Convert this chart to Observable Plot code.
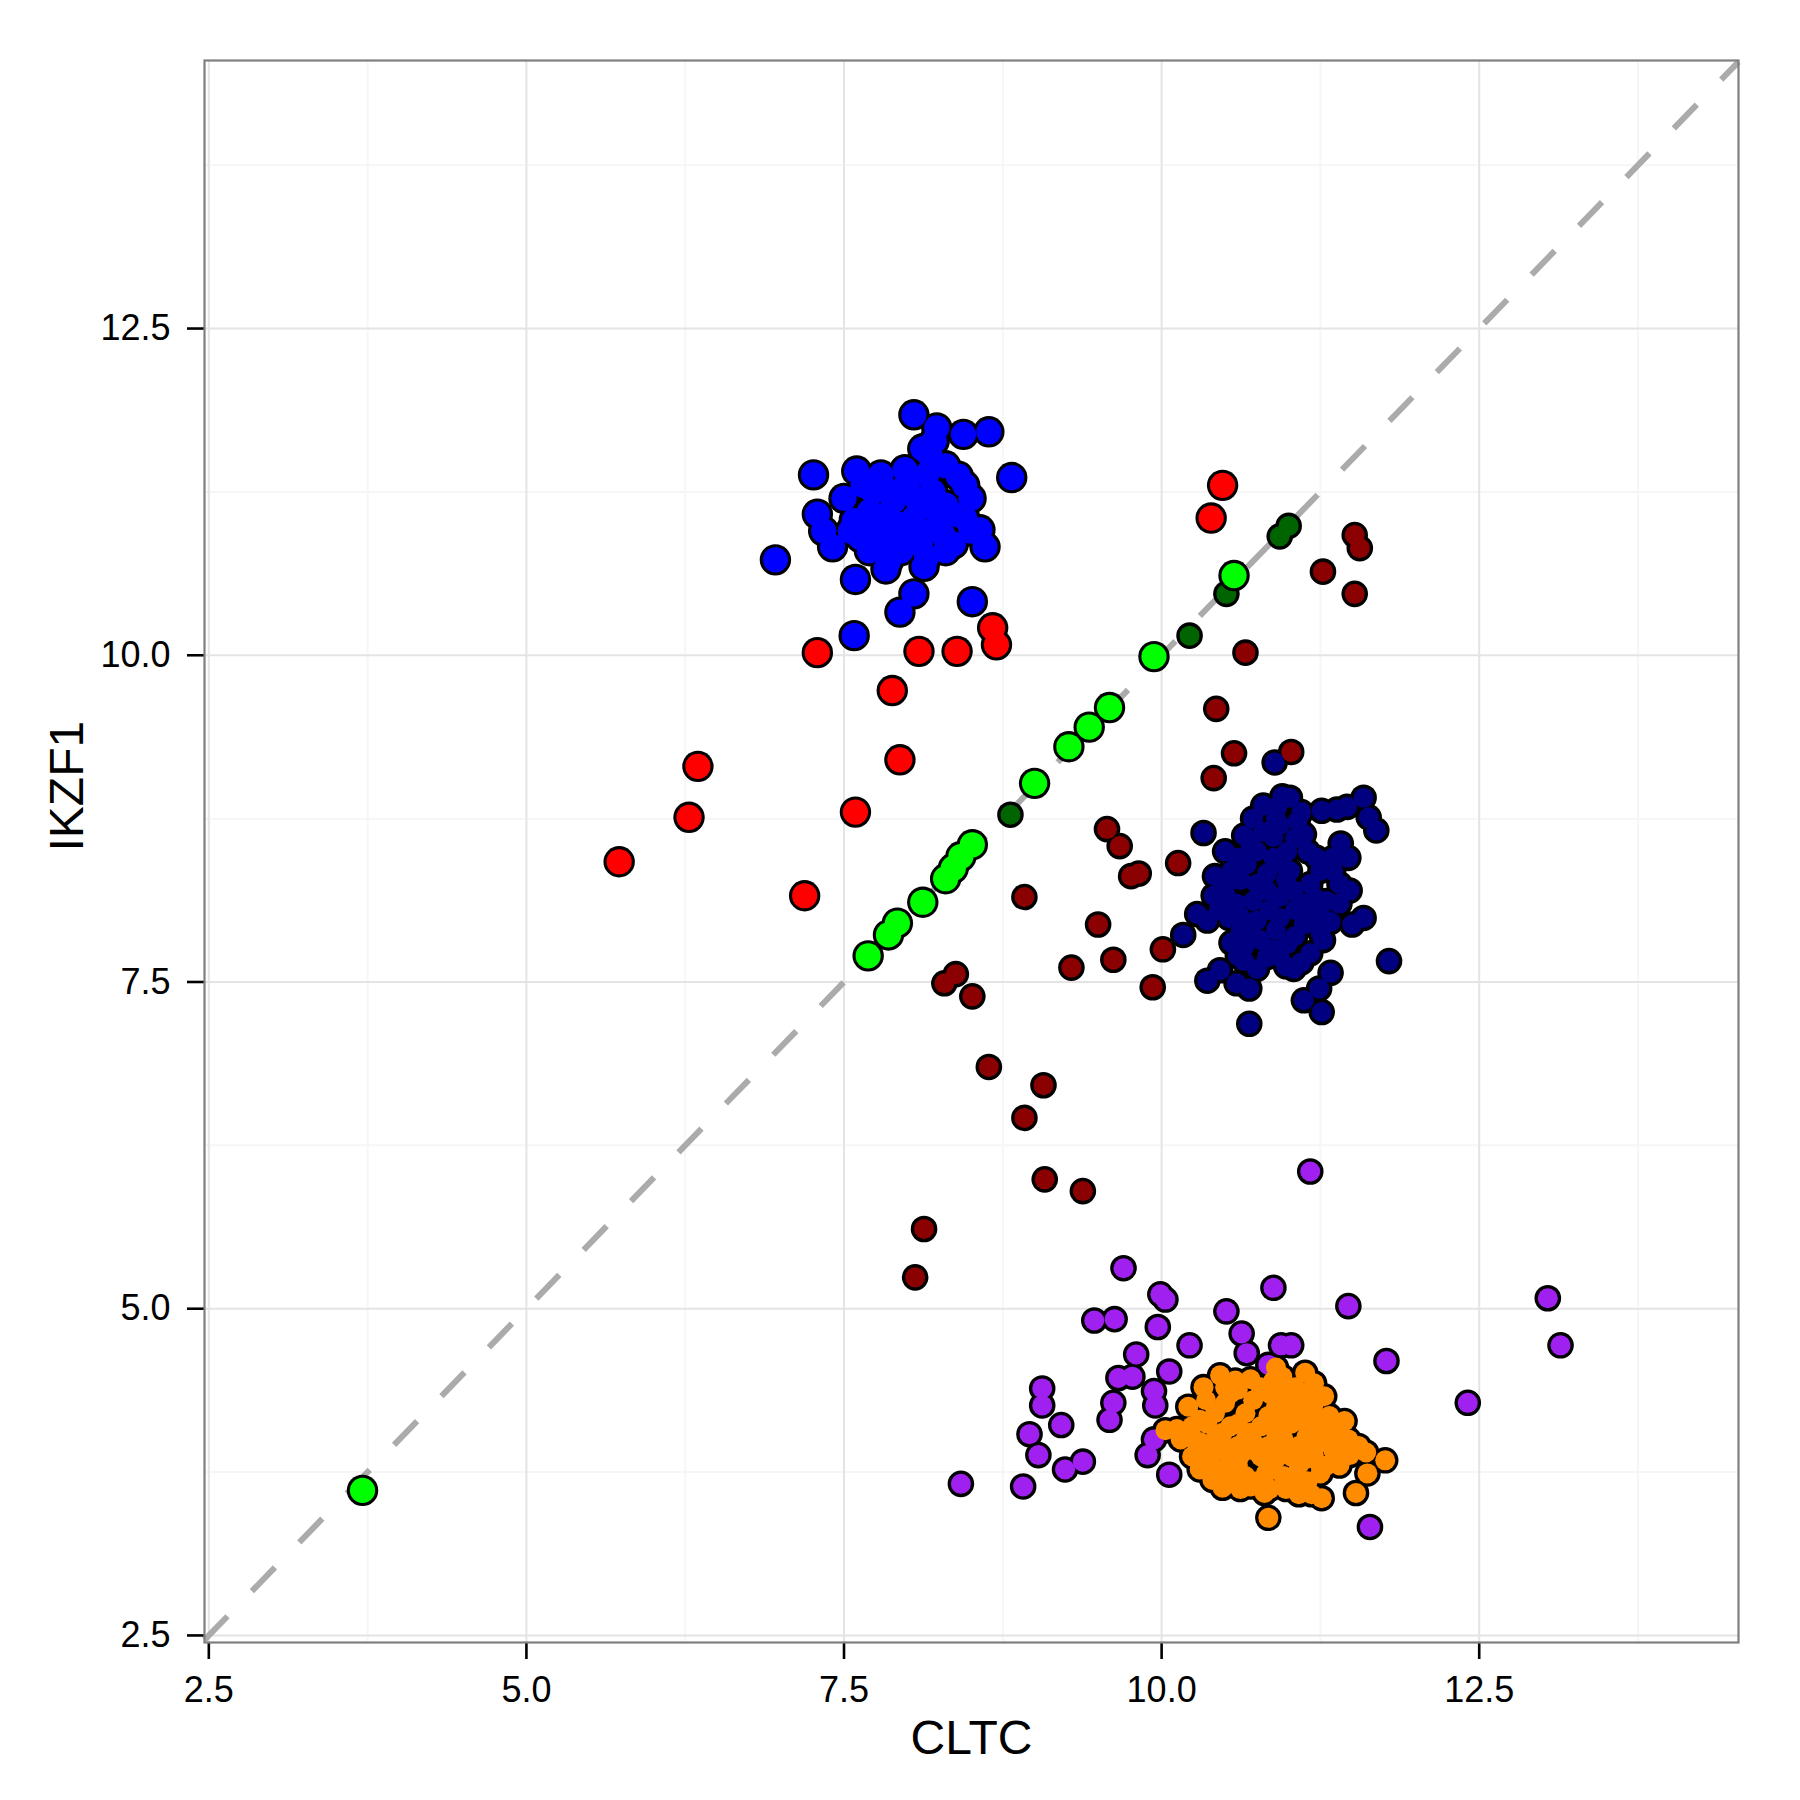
<!DOCTYPE html>
<html>
<head>
<meta charset="utf-8">
<script src="https://cdn.jsdelivr.net/npm/d3@7"></script>
<script src="https://cdn.jsdelivr.net/npm/@observablehq/plot@0.6"></script>
<style>
  html, body { margin: 0; padding: 0; background: #ffffff; }
  #chart { width: 1800px; height: 1800px; }
</style>
</head>
<body>
<div id="chart"></div>
<script>
// ---- axis settings ----
const xDomain = [2.466, 14.541];
const yDomain = [2.446, 14.551];
const majorTicks = [2.5, 5.0, 7.5, 10.0, 12.5];
const minorTicks = [3.75, 6.25, 8.75, 11.25, 13.75];
const xTitle = "CLTC";
const yTitle = "IKZF1";

// ---- data: [CLTC, IKZF1] pairs per group ----
// larger points
const redPts = [[7.29,10.02],[8.09,10.03],[8.39,10.03],[8.67,10.21],[8.70,10.08],[7.88,9.73],[10.48,11.30],[10.39,11.05],[7.94,9.20],[6.35,9.15],[6.28,8.76],[7.59,8.80],[5.73,8.42],[7.19,8.16]];
const bluePts = [[8.05,11.84],[8.23,11.74],[8.44,11.69],[8.64,11.71],[8.21,11.64],[8.18,11.52],[7.26,11.38],[8.82,11.36],[7.60,11.41],[7.79,11.38],[7.98,11.42],[8.40,11.37],[8.50,11.20],[7.50,11.20],[7.29,11.08],[7.34,10.95],[7.41,10.83],[6.96,10.73],[7.59,10.58],[7.83,10.66],[8.13,10.68],[8.05,10.47],[7.94,10.33],[8.51,10.41],[7.58,10.15],[8.57,10.96],[8.61,10.83],[8.36,10.85],[7.84,11.08],[8.07,11.20],[7.73,11.25],[7.63,10.90],[7.79,10.82],[8.10,10.85],[8.26,10.97],[7.94,11.00],[8.21,11.13],[8.36,11.08],[7.73,10.97],[8.00,11.33],[8.15,11.38],[7.58,11.03],[7.89,11.18],[8.28,10.92],[8.00,10.88],[7.70,11.10],[7.90,11.25],[8.05,11.05],[8.20,11.25],[8.30,11.15],[7.95,10.80],[8.15,10.75],[8.30,10.80],[7.70,10.80],[7.85,10.95],[8.45,11.05],[8.50,10.95],[7.65,11.30],[8.30,11.45],[7.85,10.72],[8.10,10.95],[8.25,11.05],[7.55,10.95],[8.45,11.30],[8.12,11.58]];
const greenPts = [[10.57,10.61],[9.94,9.99],[9.59,9.60],[9.43,9.45],[9.27,9.30],[9.00,9.02],[8.51,8.55],[8.42,8.46],[8.36,8.37],[8.30,8.29],[8.12,8.11],[7.92,7.95],[7.85,7.86],[7.69,7.70],[3.71,3.61]];
// smaller points
const darkGreenPts = [[10.22,10.15],[8.81,8.78],[10.51,10.47],[10.93,10.91],[11.00,10.99]];
const darkRedPts = [[11.27,10.64],[11.52,10.92],[11.56,10.82],[11.52,10.47],[10.66,10.02],[10.43,9.59],[10.57,9.25],[10.41,9.06],[11.02,9.26],[9.57,8.67],[9.67,8.54],[9.76,8.31],[9.82,8.33],[10.13,8.41],[8.92,8.15],[9.50,7.94],[10.01,7.75],[9.62,7.67],[9.29,7.61],[9.93,7.46],[8.38,7.56],[8.29,7.49],[8.51,7.39],[8.64,6.85],[9.07,6.71],[8.92,6.46],[9.08,5.99],[9.38,5.90],[8.13,5.61],[8.06,5.24]];
const navyPts = [[10.89,9.18],[10.33,8.64],[11.01,8.91],[10.91,8.84],[11.26,8.81],[11.38,8.82],[11.46,8.84],[11.59,8.91],[11.63,8.76],[11.69,8.66],[10.65,8.62],[10.93,8.70],[11.07,8.73],[11.41,8.56],[11.47,8.45],[10.42,8.31],[10.41,8.16],[11.48,8.20],[11.35,8.35],[10.28,8.02],[10.36,7.97],[10.17,7.86],[11.59,7.99],[11.50,7.94],[11.30,7.97],[11.79,7.66],[10.36,7.51],[10.46,7.59],[10.59,7.49],[10.69,7.45],[10.69,7.18],[11.33,7.57],[11.24,7.45],[11.12,7.36],[11.26,7.27],[11.04,7.60],[10.65,7.66],[10.83,7.69],[11.17,7.72],[11.27,7.82],[11.33,7.96],[10.53,7.99],[10.62,7.89],[10.65,7.77],[10.75,8.50],[10.88,8.61],[10.99,8.50],[11.12,8.63],[11.22,8.45],[10.62,8.28],[10.83,8.33],[11.01,8.35],[11.17,8.25],[11.30,8.12],[10.51,8.15],[10.72,8.12],[10.93,8.15],[11.09,8.10],[10.75,7.97],[10.93,7.99],[11.12,7.94],[10.78,7.82],[10.99,7.79],[10.83,8.20],[10.67,8.40],[11.04,8.20],[10.88,8.45],[10.51,8.25],[10.93,7.69],[10.59,8.10],[11.22,8.07],[10.80,8.85],[10.90,8.75],[10.95,8.92],[10.80,8.65],[11.05,8.60],[10.70,8.55],[11.15,8.50],[10.60,8.45],[10.95,8.40],[11.25,8.35],[10.55,8.35],[10.75,8.25],[10.98,8.28],[11.20,8.15],[11.40,8.10],[10.45,8.05],[10.62,8.00],[10.85,8.05],[11.05,8.05],[11.20,8.00],[10.70,7.90],[10.90,7.90],[11.05,7.85],[11.25,7.88],[10.55,7.80],[10.88,7.75],[11.10,7.65],[10.75,7.60],[10.60,7.70],[10.98,7.62],[11.40,8.25],[11.35,8.45],[10.50,8.50],[10.72,8.75],[11.10,8.80]];
const purplePts = [[9.70,5.31],[9.99,5.11],[10.03,5.07],[9.47,4.91],[9.63,4.92],[9.97,4.86],[10.88,5.16],[10.51,4.98],[11.47,5.02],[13.04,5.08],[13.14,4.72],[12.41,4.28],[10.63,4.81],[10.67,4.66],[10.94,4.72],[11.02,4.72],[11.77,4.60],[10.22,4.72],[9.80,4.65],[10.06,4.52],[9.66,4.47],[9.77,4.48],[9.94,4.37],[9.95,4.26],[9.62,4.28],[9.59,4.15],[9.06,4.39],[9.06,4.26],[9.21,4.11],[8.96,4.04],[9.03,3.88],[9.24,3.77],[9.38,3.83],[8.91,3.64],[9.94,4.00],[9.89,3.88],[10.06,3.73],[10.84,4.57],[11.64,3.33],[11.17,6.05],[8.42,3.66]];
const orangePts = [[10.46,4.49],[10.60,4.38],[10.90,4.55],[11.13,4.51],[11.20,4.43],[11.28,4.33],[10.21,4.25],[10.33,4.40],[10.03,4.07],[10.15,4.00],[11.44,4.14],[11.47,4.00],[11.61,3.90],[11.76,3.84],[11.62,3.74],[11.53,3.59],[10.84,3.40],[11.25,3.74],[11.26,3.55],[11.08,3.58],[10.81,3.59],[10.48,3.63],[10.40,3.69],[10.30,3.77],[10.24,3.87],[10.54,4.35],[10.78,4.40],[10.42,4.20],[10.66,4.20],[10.90,4.25],[11.08,4.25],[11.26,4.15],[10.42,4.00],[10.66,4.00],[10.90,4.05],[11.14,4.02],[11.32,4.00],[10.54,3.84],[10.78,3.87],[11.02,3.87],[11.20,3.87],[10.66,3.72],[10.96,3.72],[10.24,4.10],[10.78,4.10],[11.02,4.12],[10.54,4.10],[10.84,3.95],[10.60,3.95],[11.08,3.95],[10.36,3.90],[11.38,4.10],[10.50,4.28],[10.72,4.30],[10.95,4.35],[11.15,4.35],[10.30,4.15],[10.48,4.05],[10.70,4.05],[10.95,4.15],[11.20,4.20],[11.40,4.05],[10.30,3.98],[10.47,3.92],[10.70,3.92],[10.95,3.92],[11.15,3.92],[11.35,3.92],[10.40,3.80],[10.60,3.80],[10.85,3.80],[11.08,3.80],[11.30,3.80],[10.55,3.70],[10.75,3.68],[10.85,3.62],[11.15,3.68],[11.10,3.65],[10.62,3.62],[10.58,4.45],[10.88,4.45],[11.05,4.40],[10.20,4.02],[10.35,4.30],[11.48,3.88],[11.40,3.80],[10.95,4.48],[11.15,4.10],[10.36,4.12],[10.60,4.12],[10.84,4.18],[11.08,4.18],[11.32,4.18],[10.36,3.84],[10.62,3.88],[10.90,3.85],[11.14,3.85],[11.40,3.95],[10.48,3.96],[10.72,3.98],[10.96,4.00],[11.22,3.96],[10.50,4.40],[10.70,4.46],[11.02,4.30],[11.20,4.28],[10.58,3.76],[10.82,3.74],[11.04,3.72],[11.25,3.80],[10.70,3.64],[10.98,3.62],[11.18,3.58],[10.45,3.75],[10.12,4.08],[10.28,3.92],[11.55,3.95],[10.85,4.35],[11.25,4.05],[10.95,4.22]];

// ---- colours ----
const colours = {
  red: "#FF0000", blue: "#0000FF", green: "#00FF00",
  darkgreen: "#006400", darkred: "#8B0000", navy: "#000080",
  purple: "#A020F0", orange: "#FF8C00"
};

function tag(arr, col) { return arr.map(([x, y]) => ({x, y, col})); }

const smallData = [
  ...tag(darkGreenPts, colours.darkgreen),
  ...tag(darkRedPts, colours.darkred),
  ...tag(navyPts, colours.navy),
  ...tag(purplePts, colours.purple),
  ...tag(orangePts, colours.orange)
];
const bigData = [
  ...tag(redPts, colours.red),
  ...tag(bluePts, colours.blue),
  ...tag(greenPts, colours.green)
];

const fmt = d3.format(".1f");

const chart = Plot.plot({
  width: 1800,
  height: 1800,
  marginLeft: 204,
  marginRight: 62,
  marginTop: 60,
  marginBottom: 158,
  style: { fontFamily: "'Liberation Sans', Arial, sans-serif", fontSize: "36px", background: "#ffffff", color: "#000000" },
  x: { domain: xDomain, label: null },
  y: { domain: yDomain, label: null },
  marks: [
    Plot.gridX(minorTicks, { stroke: "#f6f6f6", strokeOpacity: 1, strokeWidth: 2 }),
    Plot.gridY(minorTicks, { stroke: "#f6f6f6", strokeOpacity: 1, strokeWidth: 2 }),
    Plot.gridX(majorTicks, { stroke: "#e4e4e4", strokeOpacity: 1, strokeWidth: 2 }),
    Plot.gridY(majorTicks, { stroke: "#e4e4e4", strokeOpacity: 1, strokeWidth: 2 }),
    Plot.line(xDomain, { x: d => d, y: d => d, stroke: "#ababab", strokeWidth: 6, strokeDasharray: "33,35", strokeLinecap: "butt" }),
    Plot.dot(smallData, { x: "x", y: "y", r: 13.3, fill: "#000000", stroke: "none" }),
    Plot.dot(smallData, { x: "x", y: "y", r: 10, fill: "col", stroke: "none" }),
    Plot.dot(bigData, { x: "x", y: "y", r: 15.7, fill: "#000000", stroke: "none" }),
    Plot.dot(bigData, { x: "x", y: "y", r: 12.6, fill: "col", stroke: "none" }),
    Plot.axisX(majorTicks, { tickSize: 17, tickPadding: 17, tickFormat: fmt, fontSize: 36, stroke: "#000000", strokeWidth: 2.6, fill: "#000000", label: null }),
    Plot.axisY(majorTicks, { tickSize: 17, tickPadding: 17, tickFormat: fmt, fontSize: 36, stroke: "#000000", strokeWidth: 2.6, fill: "#000000", label: null }),
    Plot.frame({ stroke: "#7f7f7f", strokeWidth: 2.2 }),
    Plot.text([xTitle], { text: d => d, frameAnchor: "bottom", dy: 111, lineAnchor: "bottom", fontSize: 48, fill: "#000000" }),
    Plot.text([yTitle], { text: d => d, frameAnchor: "left", dx: -122, rotate: -90, lineAnchor: "bottom", fontSize: 48, fill: "#000000" })
  ]
});

document.getElementById("chart").appendChild(chart);
</script>
</body>
</html>
